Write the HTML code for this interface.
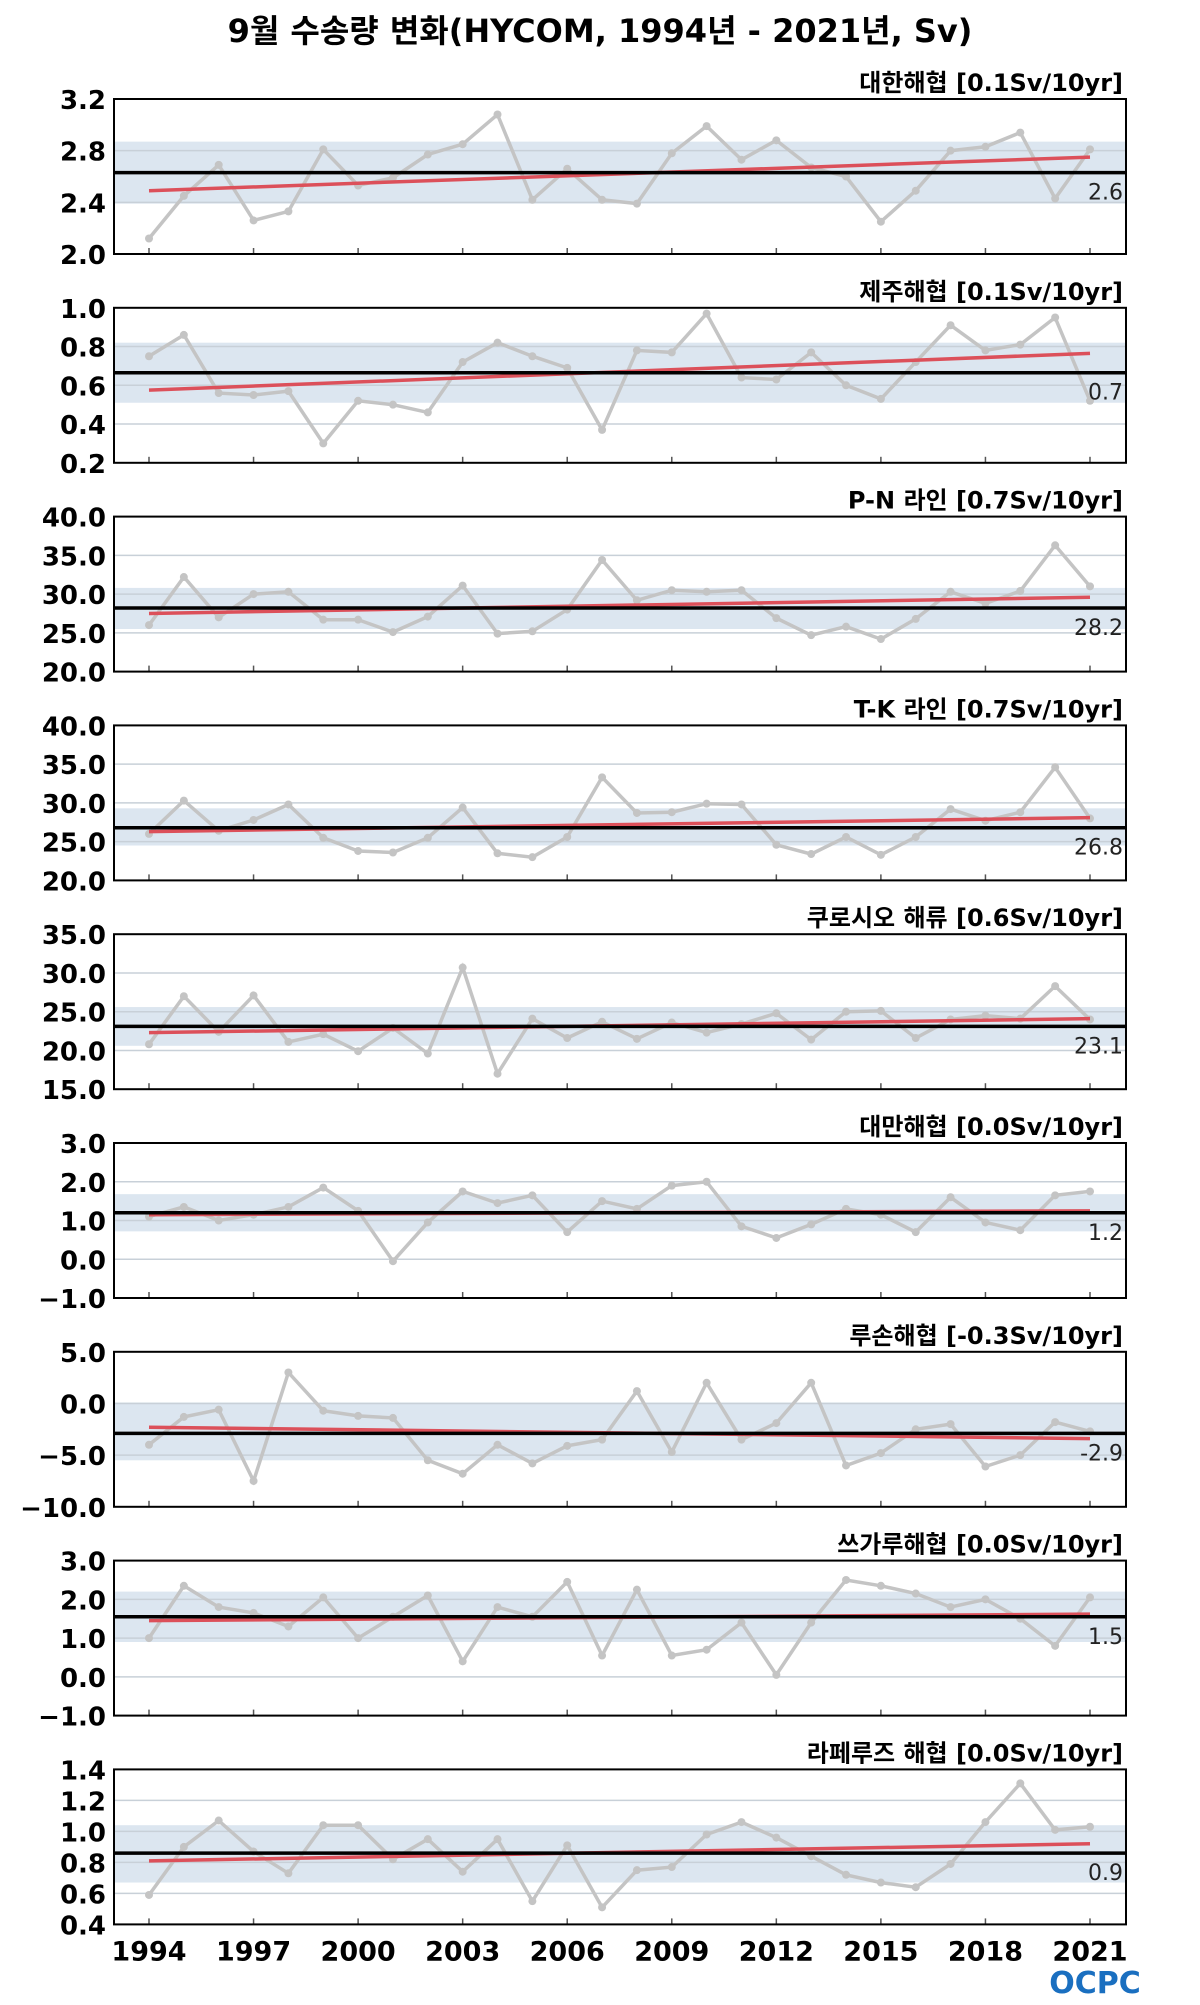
<!DOCTYPE html>
<html><head><meta charset="utf-8"><style>
body{margin:0;background:#fff;}
svg text{font-family:"DejaVu Sans","Liberation Sans","Noto Sans CJK KR",sans-serif;}
</style></head><body>
<svg id="chart" width="1200" height="2000" xmlns="http://www.w3.org/2000/svg">
<text x="600" y="42" text-anchor="middle" font-size="32" font-weight="bold">9월 수송량 변화(HYCOM, 1994년 - 2021년, Sv)</text>
<text x="1095" y="1993" text-anchor="middle" font-size="30" font-weight="bold" fill="#1a6fc0">OCPC</text>
</svg>
<script>
const years = [1994,1995,1996,1997,1998,1999,2000,2001,2002,2003,2004,2005,2006,2007,2008,2009,2010,2011,2012,2013,2014,2015,2016,2017,2018,2019,2020,2021];
const xTickYears = [1994,1997,2000,2003,2006,2009,2012,2015,2018,2021];
const titles = ["대한해협 [0.1Sv/10yr]","제주해협 [0.1Sv/10yr]","P-N 라인 [0.7Sv/10yr]","T-K 라인 [0.7Sv/10yr]","쿠로시오 해류 [0.6Sv/10yr]","대만해협 [0.0Sv/10yr]","루손해협 [-0.3Sv/10yr]","쓰가루해협 [0.0Sv/10yr]","라페루즈 해협 [0.0Sv/10yr]"];
const s1 = [2.12,2.45,2.69,2.26,2.33,2.81,2.53,2.59,2.77,2.85,3.08,2.42,2.66,2.42,2.39,2.78,2.99,2.73,2.88,2.67,2.6,2.25,2.49,2.80,2.83,2.94,2.43,2.81];
const s2 = [0.75,0.86,0.56,0.55,0.57,0.30,0.52,0.50,0.46,0.72,0.82,0.75,0.69,0.37,0.78,0.77,0.97,0.64,0.63,0.77,0.60,0.53,0.72,0.91,0.78,0.81,0.95,0.52];
const s3 = [26,32.2,27,30,30.3,26.7,26.7,25.1,27.1,31.1,24.9,25.2,28,34.4,29.2,30.5,30.3,30.5,26.9,24.7,25.8,24.2,26.8,30.3,28.8,30.4,36.3,31];
const s4 = [26,30.3,26.4,27.8,29.8,25.5,23.8,23.6,25.5,29.4,23.5,23,25.6,33.3,28.7,28.8,29.9,29.8,24.6,23.4,25.6,23.3,25.6,29.2,27.7,28.8,34.6,28];
const s5 = [20.8,27,22.4,27.1,21.1,22.1,19.9,22.9,19.6,30.7,17,24.1,21.6,23.7,21.5,23.6,22.3,23.4,24.8,21.4,25,25.1,21.6,24,24.5,24.1,28.3,24];
const s6 = [1.1,1.35,1.0,1.15,1.35,1.85,1.25,-0.05,0.95,1.75,1.45,1.65,0.7,1.5,1.3,1.9,2.0,0.85,0.55,0.9,1.3,1.15,0.7,1.6,0.95,0.75,1.65,1.75];
const s7 = [-4,-1.3,-0.6,-7.5,3,-0.7,-1.2,-1.4,-5.5,-6.8,-4,-5.8,-4.1,-3.5,1.2,-4.7,2,-3.5,-1.9,2,-6,-4.8,-2.5,-2,-6.1,-5,-1.8,-2.7];
const s8 = [1.0,2.35,1.8,1.65,1.3,2.05,1.0,1.55,2.1,0.4,1.8,1.55,2.45,0.55,2.25,0.55,0.7,1.4,0.05,1.4,2.5,2.35,2.15,1.8,2.0,1.5,0.8,2.05];
const s9 = [0.59,0.90,1.07,0.87,0.73,1.04,1.04,0.82,0.95,0.74,0.95,0.55,0.91,0.51,0.75,0.77,0.98,1.06,0.96,0.84,0.72,0.67,0.64,0.79,1.06,1.31,1.01,1.03];
const series = [s1,s2,s3,s4,s5,s6,s7,s8,s9];
const means = [2.63,0.665,28.2,26.8,23.1,1.2,-2.9,1.55,0.86];
const meanLabels = ["2.6","0.7","28.2","26.8","23.1","1.2","-2.9","1.5","0.9"];
const bandLow = [2.39,0.51,25.5,24.5,20.6,0.72,-5.5,0.9,0.67];
const bandHigh = [2.87,0.82,30.8,29.3,25.6,1.68,0.1,2.2,1.04];
const trendStart = [2.49,0.575,27.5,26.3,22.3,1.15,-2.3,1.45,0.81];
const trendEnd = [2.75,0.765,29.6,28.1,24.1,1.25,-3.4,1.62,0.92];
const yTicks = [[2.0,2.4,2.8,3.2],[0.2,0.4,0.6,0.8,1.0],[20,25,30,35,40],[20,25,30,35,40],[15,20,25,30,35],[-1,0,1,2,3],[-10,-5,0,5],[-1,0,1,2,3],[0.4,0.6,0.8,1.0,1.2,1.4]];

const svg = document.getElementById('chart');
const NS = 'http://www.w3.org/2000/svg';
function mk(tag, attrs, parent){const e=document.createElementNS(NS,tag);for(const k in attrs)e.setAttribute(k,attrs[k]);(parent||svg).appendChild(e);return e;}
const L=114, R=1126, H=155, GAP=208.8;
const x0=149, dx=(1090-149)/27;
function xs(y){return x0+(y-1994)*dx;}
function fmt(v){const s=Math.abs(v).toFixed(1);return v<0?'\u2212'+s:s;}
for(let p=0;p<9;p++){
  const top=99+p*GAP, bot=top+H;
  const t=yTicks[p], lo=t[0], hi=t[t.length-1];
  const ys=v=>bot-(v-lo)/(hi-lo)*H;
  const g=mk('g',{});
  
  
  const band=mk('rect',{x:L,y:ys(bandHigh[p]),width:R-L,height:ys(bandLow[p])-ys(bandHigh[p]),fill:'#dce6f0'},g);
  
  
  t.forEach(v=>{
    if(v!==lo&&v!==hi){const gl=mk('line',{x1:L,x2:R,y1:ys(v),y2:ys(v),stroke:'#c8d0d8','stroke-width':1.5},g);
    }
    const tl=mk('text',{x:L-8,y:ys(v)+10,'text-anchor':'end','font-size':26,'font-weight':'bold'},g);
    tl.textContent=p>=2&&p<=4?v.toFixed(1):fmt(v);
    
  });
  xTickYears.forEach(y=>{const tk=mk('line',{x1:xs(y),x2:xs(y),y1:bot,y2:bot-6,stroke:'#555','stroke-width':1.5},g);
    });
  const d=series[p].map((v,i)=>(i?'L':'M')+xs(years[i]).toFixed(1)+','+ys(v).toFixed(1)).join('');
  const ln=mk('path',{d:d,fill:'none',stroke:'#c4c4c4','stroke-width':3.5},g);
  
  series[p].forEach((v,i)=>{const c=mk('circle',{cx:xs(years[i]),cy:ys(v),r:4,fill:'#c4c4c4'},g);
    });
  const tr=mk('line',{x1:xs(1994),x2:xs(2021),y1:ys(trendStart[p]),y2:ys(trendEnd[p]),stroke:'#dc505a','stroke-width':3.5},g);
  
  const ml=mk('line',{x1:L,x2:R,y1:ys(means[p]),y2:ys(means[p]),stroke:'#000','stroke-width':3.5},g);
  
  const mt=mk('text',{x:R-3,y:ys(means[p])+27,'text-anchor':'end','font-size':22,fill:'#222'},g);
  mt.textContent=meanLabels[p];
  
  const fr=mk('rect',{x:L,y:top,width:R-L,height:H,fill:'none',stroke:'#000','stroke-width':2},g);
  
  const tt=mk('text',{x:R-3,y:top-8,'text-anchor':'end','font-size':24,'font-weight':'bold'},g);
  tt.textContent=titles[p];
  
}
const lastBot=99+8*GAP+H;
xTickYears.forEach(y=>{const t=mk('text',{x:xs(y),y:lastBot+36,'text-anchor':'middle','font-size':27,'font-weight':'bold'});
  t.textContent=y;
  });
</script>
</body></html>
